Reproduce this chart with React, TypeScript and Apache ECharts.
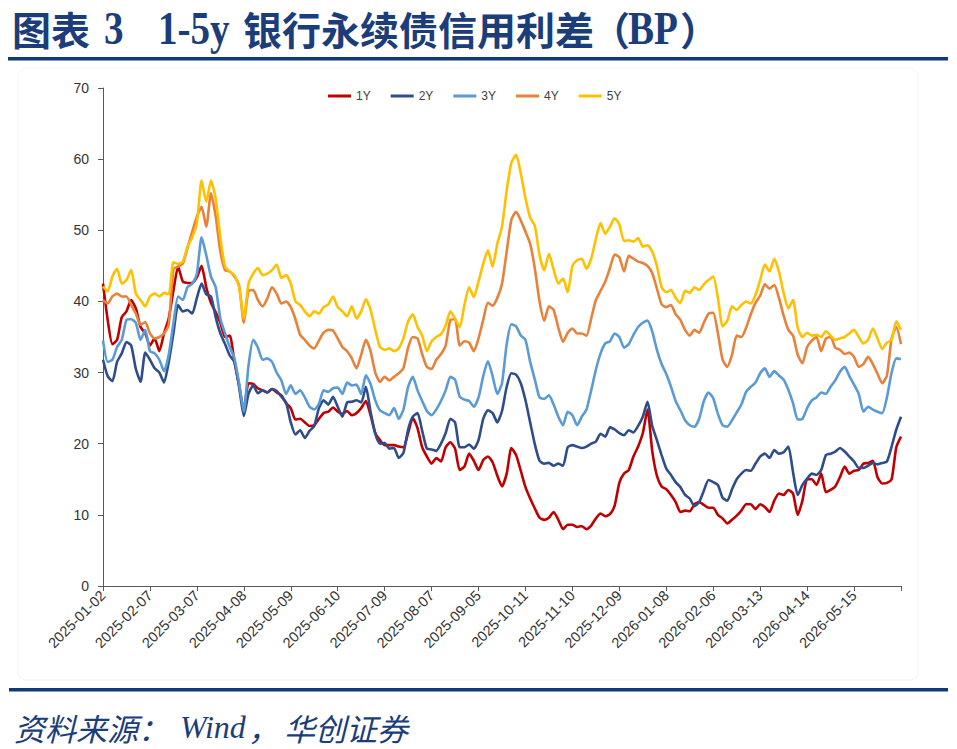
import React, { useEffect, useRef } from "react";
import * as echarts from "echarts";

// Tick labels of the category axis (one every 10 points, i.e. every ~20 trading days)
const tickLabels = [
  "2025-01-02", "2025-02-07", "2025-03-07", "2025-04-08", "2025-05-09", "2025-06-10",
  "2025-07-09", "2025-08-07", "2025-09-05", "2025-10-11", "2025-11-10", "2025-12-09",
  "2026-01-08", "2026-02-06", "2026-03-13", "2026-04-14", "2026-05-15",
];
const POINTS_PER_TICK = 10;

const seriesNames = ["1Y", "2Y", "3Y", "4Y", "5Y"];
const seriesColors = ["#C00000", "#2F4D8C", "#5B9BD5", "#E8813A", "#FFC000"];

const y1 = [
  42.5, 37.4, 34.0, 34.6, 37.8, 38.6, 40.2, 39.0, 36.4, 35.5,
  33.8, 34.8, 33.0, 35.5, 37.6, 41.5, 44.9, 42.8, 42.6, 42.6,
  43.4, 45.0, 42.0, 39.8, 38.5, 37.0, 35.0, 35.2, 31.5, 28.2,
  24.7, 28.5, 28.4, 27.8, 27.5, 27.2, 27.7, 27.2, 26.8, 25.7,
  25.0, 23.4, 23.5, 23.0, 22.5, 22.6, 23.5, 24.3, 24.5, 25.1,
  24.5, 24.2, 24.6, 24.0, 24.3, 25.0, 26.0, 24.0, 21.5, 20.5,
  19.8, 19.8, 19.8, 19.6, 19.5, 21.5, 23.6, 22.2, 19.5, 18.2,
  17.2, 18.0, 17.5, 19.5, 20.2, 19.3, 16.3, 16.8, 18.6, 17.6,
  16.3, 17.7, 18.2, 17.4, 15.5, 14.0, 15.8, 19.4, 18.4, 16.2,
  13.9, 12.3, 10.9, 9.6, 9.3, 9.6, 10.4, 9.3, 8.0, 8.6,
  8.6, 8.3, 8.4, 8.0, 8.5, 9.5, 10.2, 9.8, 10.1, 11.3,
  14.5, 15.8, 16.3, 18.2, 19.6, 21.5, 24.8, 19.0, 15.5, 14.0,
  13.6, 12.8, 11.8, 10.4, 10.6, 10.5, 11.5, 11.8, 11.4, 11.0,
  11.0, 10.0, 9.5, 8.8, 9.3, 9.9, 10.6, 11.5, 11.5, 10.8,
  11.5, 11.1, 10.4, 12.0, 13.0, 12.8, 13.5, 13.0, 10.0, 12.0,
  15.0, 15.0, 14.2, 15.8, 13.2, 13.5, 14.0, 15.3, 16.8, 15.8,
  16.2, 16.3, 17.2, 17.3, 17.6, 15.3, 14.4, 14.5, 15.0, 19.5,
  21.0,
];

const y2 = [
  31.8, 29.5, 28.8, 31.5, 32.7, 34.3, 33.8, 30.5, 28.7, 32.8,
  31.8, 30.6, 30.0, 28.6, 31.5, 35.5, 39.5, 38.6, 38.8, 38.3,
  40.5, 42.5, 41.0, 40.7, 37.8, 35.5, 34.0, 32.4, 31.5, 28.0,
  23.9, 27.0, 28.2, 27.1, 27.5, 27.2, 27.7, 27.4, 26.6, 25.8,
  23.0, 21.3, 21.9, 20.8, 21.8, 22.5, 25.0, 26.1, 25.5, 26.6,
  25.2, 23.8, 25.8, 25.9, 26.1, 25.8, 28.0, 24.5, 21.4, 20.0,
  20.1, 19.3, 19.4, 18.0, 18.7, 22.0, 23.8, 24.3, 21.8, 19.3,
  19.2, 19.0, 20.0, 21.5, 23.5, 23.0, 19.5, 19.5, 19.9, 19.3,
  20.5, 23.5, 24.7, 24.3, 23.0, 24.6, 28.0, 29.9, 29.7, 28.5,
  26.1, 23.0, 19.9, 17.6, 17.2, 17.3, 16.9, 17.2, 16.9, 19.5,
  19.8, 19.6, 19.4, 19.6, 20.0, 20.3, 21.4, 21.0, 22.3, 22.0,
  21.5, 21.2, 21.9, 21.6, 22.5, 23.8, 25.9, 22.5, 20.5, 18.4,
  16.5, 15.6, 14.6, 13.9, 12.8, 12.3, 11.2, 11.8, 13.4, 14.9,
  14.6, 14.2, 12.4, 12.0, 13.6, 15.0, 15.8, 16.3, 16.2, 17.2,
  18.2, 18.6, 18.0, 19.1, 18.6, 18.8, 19.6, 16.0, 12.8, 14.2,
  15.1, 15.8, 15.6, 16.3, 18.4, 18.6, 18.9, 19.4, 18.9, 18.2,
  17.5, 16.6, 16.6, 16.9, 17.3, 17.1, 17.3, 17.5, 19.6, 22.0,
  23.8,
];

const y3 = [
  34.5, 31.5, 31.8, 33.6, 34.6, 37.4, 37.5, 37.0, 34.6, 36.0,
  33.0, 32.7, 31.8, 30.2, 32.5, 36.9, 40.7, 40.2, 42.0, 42.5,
  43.9, 49.0, 46.5, 43.5, 42.0, 37.6, 35.5, 33.6, 32.0, 28.5,
  24.5, 31.0, 34.6, 33.5, 31.8, 32.0, 31.5, 30.0, 28.9, 27.0,
  28.2, 27.0, 27.5, 26.5, 25.2, 24.8, 25.6, 27.5, 27.3, 27.8,
  27.9, 27.0, 28.6, 28.2, 28.3, 27.0, 29.6, 28.4, 26.1, 24.7,
  24.3, 24.0, 25.0, 23.5, 24.8, 28.0, 29.4, 27.5, 26.0, 24.6,
  24.0, 24.8, 26.0, 27.5, 29.4, 29.0, 26.6, 26.2, 26.0, 25.2,
  26.5, 29.5, 31.6, 29.5, 27.0, 28.5, 34.0, 36.8, 36.5, 35.2,
  34.6, 31.5, 29.0, 26.5, 26.3, 26.8, 25.5, 23.8, 22.6, 24.5,
  24.0, 22.6, 23.8, 24.8, 27.5, 30.4, 32.7, 34.1, 34.4, 35.5,
  35.0, 33.5, 34.0, 35.3, 36.4, 37.0, 37.3, 35.8, 33.2, 31.2,
  29.8, 28.0, 26.0, 24.7, 23.3, 22.6, 22.4, 23.5, 26.0, 27.2,
  26.4, 24.2, 22.6, 22.4, 23.3, 24.4, 25.5, 27.3, 28.0, 28.6,
  29.9, 30.6, 29.4, 30.2, 29.6, 29.0, 27.6, 25.7, 23.4, 23.5,
  25.0, 26.1, 26.5, 27.2, 27.0, 28.0, 28.9, 30.1, 30.8, 29.5,
  28.3, 27.0, 24.5, 25.2, 24.8, 24.5, 24.3, 26.5, 30.0, 32.0,
  31.9,
];

const y4 = [
  40.2, 39.7, 40.7, 41.1, 40.7, 40.7, 39.5, 38.3, 36.7, 37.1,
  35.5, 34.8, 35.0, 35.5, 36.8, 44.5, 44.9, 45.3, 47.5, 49.8,
  51.9, 53.3, 50.5, 55.2, 52.0, 47.0, 44.4, 44.2, 43.5, 42.2,
  37.0, 41.5, 41.6, 40.2, 39.3, 40.4, 42.0, 41.1, 39.7, 40.0,
  39.2, 37.5, 35.3, 34.6, 33.8, 33.4, 34.5, 35.6, 36.0, 35.9,
  34.8, 33.6, 33.0, 32.0, 30.6, 32.5, 34.6, 33.0, 30.0, 28.7,
  29.4, 28.9, 29.4, 29.9, 30.6, 33.5, 35.0, 34.8, 32.6, 30.8,
  30.5, 31.8, 32.6, 33.8, 37.4, 37.5, 33.8, 34.4, 34.2, 33.0,
  34.8, 37.4, 39.8, 39.4, 40.5, 42.5, 47.0, 51.5, 52.6, 51.4,
  49.8, 48.1, 44.6, 40.0, 37.3, 39.3, 38.8, 36.3, 34.3, 35.6,
  36.2, 35.5, 35.5, 35.2, 37.6, 40.2, 41.5, 42.8, 44.7, 46.6,
  46.2, 44.2, 46.4, 46.0, 45.6, 45.4, 45.0, 44.0, 41.8, 39.6,
  39.2, 39.5, 38.2, 37.4, 36.0, 35.2, 36.0, 35.6, 37.0, 38.3,
  38.4, 35.5, 31.8, 30.8, 32.5, 35.2, 35.0, 36.3, 38.2, 39.8,
  40.8, 42.4, 41.8, 42.3, 40.5, 38.0, 36.0, 35.2, 32.5, 31.3,
  33.6, 34.5, 35.0, 33.0, 34.8, 35.0, 33.5, 33.2, 32.6, 32.8,
  32.2, 30.8, 31.2, 32.2, 31.2, 29.8, 28.5, 29.6, 34.8, 36.4,
  34.0,
];

const y5 = [
  42.1, 41.4, 43.5, 44.6, 42.5, 43.0, 44.4, 41.1, 40.2, 39.3,
  40.7, 41.1, 40.7, 41.2, 41.0, 45.5, 45.3, 45.6, 47.7, 49.0,
  51.0, 57.0, 54.0, 57.0, 54.5, 49.0, 44.9, 44.2, 43.7, 42.0,
  37.6, 42.5, 43.9, 44.7, 43.7, 43.9, 44.4, 45.2, 43.3, 43.7,
  42.5, 40.0, 39.5, 38.6, 37.9, 38.6, 38.3, 39.2, 39.6, 40.7,
  39.2, 38.6, 37.9, 39.3, 37.6, 38.6, 40.3, 38.8, 36.0, 33.6,
  33.2, 33.4, 33.0, 33.4, 34.8, 37.2, 38.2, 36.4, 35.2, 33.0,
  34.4, 35.0, 35.4, 36.6, 38.6, 37.6, 36.4, 39.5, 42.0, 40.6,
  42.8, 45.3, 47.2, 44.9, 48.1, 50.5, 55.6, 59.5, 60.6, 58.0,
  54.5, 51.8, 50.6, 46.5, 44.4, 46.7, 44.5, 42.5, 43.2, 41.3,
  45.0, 45.8, 46.0, 44.6, 46.0, 48.8, 51.0, 49.5, 50.5, 51.7,
  50.8, 48.5, 48.6, 48.4, 48.9, 47.7, 47.9, 47.0, 45.0, 42.0,
  41.3, 41.6, 40.5, 39.8, 41.5, 41.2, 42.0, 41.6, 42.4, 43.0,
  43.5, 40.5, 36.5, 37.3, 39.3, 38.8, 39.5, 40.0, 39.7, 40.9,
  43.0, 45.2, 44.2, 46.0, 44.2, 41.2, 39.0, 40.2, 36.3, 35.0,
  35.6, 35.2, 35.3, 35.0, 35.8, 35.2, 34.6, 34.8, 35.0, 35.5,
  36.0, 35.0, 34.1, 34.6, 36.2, 34.8, 33.3, 34.2, 34.6, 37.2,
  36.0,
];

const allSeries = [y1, y2, y3, y4, y5];

const categories = y1.map((_, i) =>
  i % POINTS_PER_TICK === 0 && tickLabels[i / POINTS_PER_TICK] ? tickLabels[i / POINTS_PER_TICK] : ""
);

const NAVY = "#1B3D7A";
const LINE_NAVY = "#0E3A78";

export default function App() {
  const ref = useRef<HTMLDivElement>(null);

  useEffect(() => {
    if (!ref.current) return;
    const chart = echarts.init(ref.current, undefined, { renderer: "svg" });
    const axisColor = "#595959";
    const option: any = {
      animation: false,
      backgroundColor: "#ffffff",
      grid: { left: 103, right: 56, top: 88, bottom: 163, containLabel: false },
      legend: {
        data: seriesNames,
        left: 323,
        top: 85,
        icon: "rect",
        itemWidth: 23,
        itemHeight: 3,
        itemGap: 20,
        itemStyle: { borderWidth: 0 },
        textStyle: { fontSize: 12, color: "#404040", fontFamily: "Liberation Sans" },
      },
      xAxis: {
        type: "category",
        boundaryGap: false,
        data: categories,
        axisLine: { lineStyle: { color: axisColor, width: 1 } },
        axisTick: { interval: POINTS_PER_TICK - 1, length: 5, lineStyle: { color: axisColor } },
        axisLabel: {
          interval: POINTS_PER_TICK - 1,
          rotate: 45,
          fontSize: 14.5,
          color: "#333333",
          margin: 7,
          fontFamily: "Liberation Sans",
        },
        splitLine: { show: false },
      },
      yAxis: {
        type: "value",
        min: 0,
        max: 70,
        interval: 10,
        axisLine: { show: true, lineStyle: { color: axisColor, width: 1 } },
        axisTick: { show: true, length: 5, lineStyle: { color: axisColor } },
        axisLabel: { fontSize: 14, color: "#333333", margin: 14, fontFamily: "Liberation Sans" },
        splitLine: { show: false },
      },
      series: allSeries.map((d, k) => ({
        name: seriesNames[k],
        type: "line",
        data: d,
        showSymbol: false,
        symbol: "none",
        smooth: 0.2,
        lineStyle: { width: 2.6, color: seriesColors[k] },
        itemStyle: { color: seriesColors[k] },
      })),
      graphic: [
        // faint chart frame
        {
          type: "rect",
          shape: { x: 18, y: 68, width: 900, height: 612, r: 8 },
          style: { fill: "none", stroke: "#f4f4f4", lineWidth: 1 },
          z: -1,
        },
        // title
        {
          type: "text",
          x: 12,
          y: 28,
          style: { text: "图表", font: 'bold 39px "Noto Sans CJK SC"', fill: NAVY, textVerticalAlign: "middle" },
        },
        {
          type: "text",
          x: 104,
          y: 28,
          scaleX: 0.85,
          style: { text: "3", font: 'bold 46px "Liberation Serif"', fill: NAVY, textVerticalAlign: "middle" },
        },
        {
          type: "text",
          x: 158,
          y: 28,
          scaleX: 0.85,
          style: { text: "1-5y", font: 'bold 46px "Liberation Serif"', fill: NAVY, textVerticalAlign: "middle" },
        },
        {
          type: "text",
          x: 243,
          y: 28,
          style: { text: "银行永续债信用利差", font: 'bold 39px "Noto Sans CJK SC"', fill: NAVY, textVerticalAlign: "middle" },
        },
        {
          type: "text",
          x: 591,
          y: 28,
          style: { text: "（", font: 'bold 39px "Noto Sans CJK SC"', fill: NAVY, textVerticalAlign: "middle" },
        },
        {
          type: "text",
          x: 628,
          y: 28,
          scaleX: 0.85,
          style: { text: "BP", font: 'bold 46px "Liberation Serif"', fill: NAVY, textVerticalAlign: "middle" },
        },
        {
          type: "text",
          x: 680,
          y: 28,
          style: { text: "）", font: 'bold 39px "Noto Sans CJK SC"', fill: NAVY, textVerticalAlign: "middle" },
        },
        // rules
        { type: "rect", shape: { x: 8, y: 57, width: 940, height: 3.5 }, style: { fill: LINE_NAVY } },
        { type: "rect", shape: { x: 9, y: 688, width: 939, height: 3.5 }, style: { fill: LINE_NAVY } },
        // footer
        {
          type: "text",
          x: 14,
          y: 727,
          style: { text: "资料来源：", font: 'italic 31px "Noto Sans CJK SC"', fill: NAVY, textVerticalAlign: "middle" },
        },
        {
          type: "text",
          x: 180,
          y: 727,
          style: { text: "Wind", font: 'italic 32px "Liberation Serif"', fill: NAVY, textVerticalAlign: "middle" },
        },
        {
          type: "text",
          x: 248,
          y: 727,
          style: { text: "，", font: 'italic 31px "Noto Sans CJK SC"', fill: NAVY, textVerticalAlign: "middle" },
        },
        {
          type: "text",
          x: 284,
          y: 727,
          style: { text: "华创证券", font: 'italic 31px "Noto Sans CJK SC"', fill: NAVY, textVerticalAlign: "middle" },
        },
      ],
    };
    chart.setOption(option);
    return () => chart.dispose();
  }, []);

  return (
    <div
      ref={ref}
      style={{ position: "fixed", left: 0, top: 0, width: 957, height: 749, background: "#fff" }}
    />
  );
}
